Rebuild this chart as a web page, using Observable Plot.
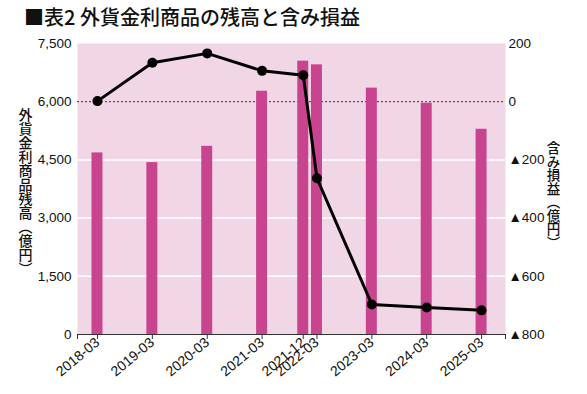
<!DOCTYPE html>
<html>
<head>
<meta charset="utf-8">
<script src="https://cdn.jsdelivr.net/npm/d3@7"></script>
<script src="https://cdn.jsdelivr.net/npm/@observablehq/plot@0.6"></script>
<style>
  body { margin: 0; background: #fff; }
  #wrap { position: relative; width: 587px; height: 394px; font-family: "Liberation Sans", Arial, sans-serif; }
  #title { height: 32px; line-height: 34px; padding-left: 24px; font-family: "Noto Sans CJK JP", sans-serif; font-size: 20px; font-weight: 500; color: #111; white-space: nowrap; }
  svg { display: block; }
</style>
</head>
<body>
<div id="wrap">
  <div id="title">■表2 外貨金利商品の残高と含み損益</div>
  <div id="chart"></div>
</div>
<script>
// --- data ---
const dates = ["2018-03","2019-03","2020-03","2021-03","2021-12","2022-03","2023-03","2024-03","2025-03"];
const balance = [4680, 4430, 4850, 6270, 7045, 6950, 6350, 5960, 5290];      // 外貨金利商品残高（億円）
const pnl = [2, 134, 166, 106, 91, -263, -697, -707, -717];                // 含み損益（億円）
const leftTicks = [0, 1500, 3000, 4500, 6000, 7500];
const rightTicks = [200, 0, -200, -400, -600, -800];
const leftLabel = "外貨金利商品残高（億円）";
const rightLabel = "含み損益（億円）";

// position in years (March = integer)
const toT = s => { const [y, m] = s.split("-").map(Number); return y + (m - 3) / 12; };
const data = dates.map((d, i) => ({date: d, t: toT(d), balance: balance[i], pnl: pnl[i]}));
// map right axis (-800..200) onto left scale (0..7500)
const r2l = v => (v + 800) * 7.5;
const l2r = v => v / 7.5 - 800;
const fmtRight = v => { v = Math.round(v); return v < 0 ? "▲" + (-v) : String(v); };
const labelOf = new Map(data.map(d => [d.t, d.date]));
const xDomain = [2017.636, 2025.436];

const pink = "#f1d6e6";
const barColor = "#c9448f";

const chart = Plot.plot({
  width: 587,
  height: 362,
  marginLeft: 77,
  marginRight: 82,
  marginTop: 11,
  marginBottom: 60,
  style: {fontFamily: "'Liberation Sans', Arial, sans-serif", fontSize: "13px", color: "#111", background: "transparent"},
  x: {type: "linear", domain: xDomain},
  y: {domain: [0, 7500]},
  marks: [
    Plot.frame({fill: pink, stroke: null}),
    Plot.gridY([1500, 3000, 4500], {stroke: "white", strokeOpacity: 1, strokeWidth: 1.5}),
    Plot.ruleY([6000], {stroke: "#333", strokeDasharray: "2,2", strokeWidth: 1}),
    Plot.rectY(data, {x1: d => d.t - 0.1, x2: d => d.t + 0.1, y1: 0, y2: "balance", fill: barColor}),
    Plot.line(data, {x: "t", y: d => r2l(d.pnl), stroke: "black", strokeWidth: 3}),
    Plot.dot(data, {x: "t", y: d => r2l(d.pnl), r: 5, fill: "black"}),
    Plot.ruleY([0], {stroke: "#333", strokeWidth: 1.2}),
    Plot.axisX({
      ticks: [xDomain[0], ...data.map(d => d.t), xDomain[1]],
      tickFormat: v => labelOf.get(v) ?? "",
      tickRotate: -40, tickSize: 5, tickPadding: 1, label: null, stroke: "#333", fontSize: 14
    }),
    Plot.axisY({anchor: "left", ticks: leftTicks, tickFormat: d3.format(","), tickSize: 0, tickPadding: 6, label: null, fontSize: 13.5}),
    Plot.axisY({anchor: "right", ticks: rightTicks.map(r2l), tickFormat: v => fmtRight(l2r(v)), tickSize: 0, tickPadding: 3, label: null, fontSize: 13.5}),
    Plot.text([leftLabel], {text: d => d, frameAnchor: "left", textAnchor: "middle", dx: -52, dy: -2, fontSize: 14, fontFamily: "'Noto Sans CJK JP', sans-serif", fontWeight: 500}),
    Plot.text([rightLabel], {text: d => d, frameAnchor: "right", textAnchor: "middle", dx: 48, dy: 2, fontSize: 13.5, fontFamily: "'Noto Sans CJK JP', sans-serif", fontWeight: 500})
  ]
});

d3.select(chart).selectAll("text")
  .filter(function() { return this.textContent === leftLabel || this.textContent === rightLabel; })
  .style("writing-mode", "vertical-rl")
  .attr("dy", null);

document.getElementById("chart").appendChild(chart);
</script>
</body>
</html>
